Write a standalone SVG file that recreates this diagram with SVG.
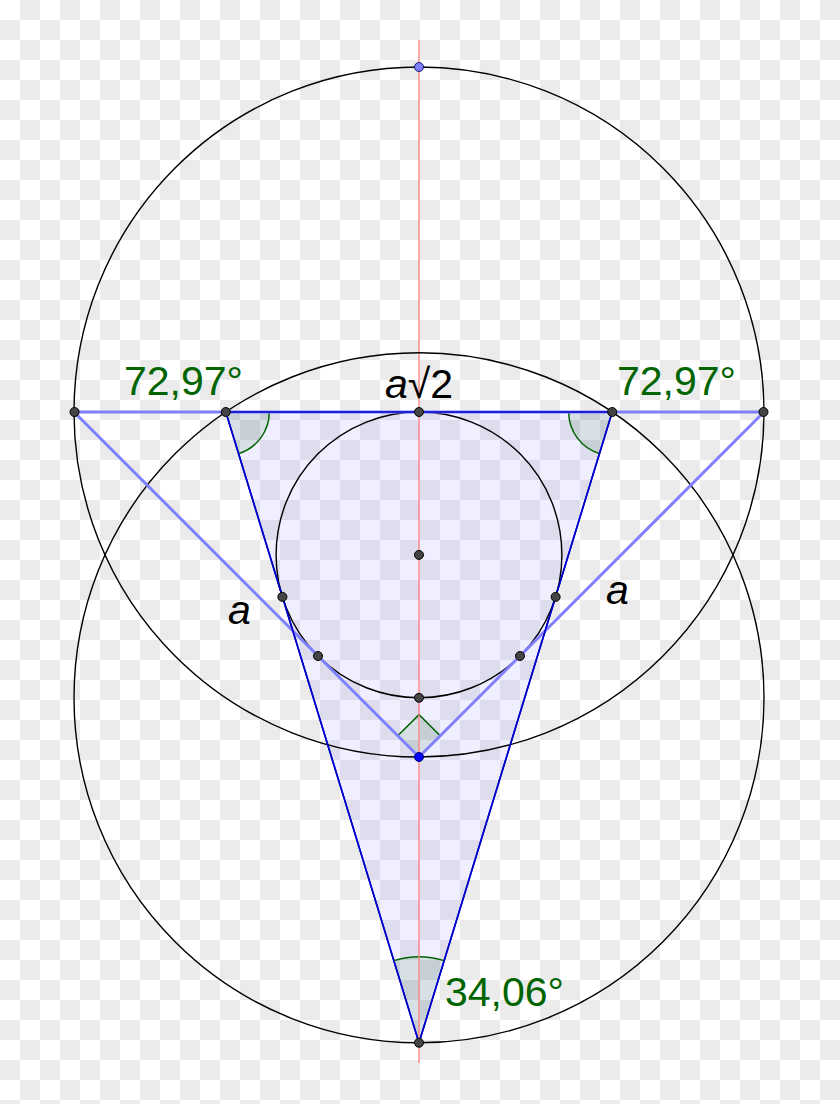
<svg xmlns="http://www.w3.org/2000/svg" width="840" height="1104" viewBox="0 0 840 1104">
<defs>
<pattern id="chk" width="40" height="40" patternUnits="userSpaceOnUse">
<rect width="40" height="40" fill="#ffffff"/>
<rect x="20" y="0" width="20" height="20" fill="#ebebeb"/>
<rect x="0" y="20" width="20" height="20" fill="#ebebeb"/>
</pattern>
<style>
.circ{fill:none;stroke:#000;stroke-width:1.4}
.lite{stroke:#7f7fff;stroke-width:3;fill:none;stroke-linecap:round}
.tri{fill:#6666ff;fill-opacity:0.1;stroke:#0000cc;stroke-width:1.6;stroke-linejoin:round}
.angf{fill:#006400;fill-opacity:0.1;stroke:none}
.angs{fill:none;stroke:#006400;stroke-width:1.5}
.pt{fill:#444;stroke:#000;stroke-width:1}
.lbl{font-family:"Liberation Sans",Arial,sans-serif;font-size:41px}
.grn{fill:#006400}
.blk{fill:#000}
</style>
</defs>
<rect width="840" height="1104" fill="url(#chk)"/>
<g id="triangle">
<path class="tri" d="M225.8 412 L612.2 412 L419 1042.8 Z"/>
</g>
<g id="angles">
<path class="angf" d="M225.8 412 L269.3 412 A43.5 43.5 0 0 1 238.5 453.6 Z"/>
<path class="angs" d="M269.3 412 A43.5 43.5 0 0 1 238.5 453.6"/>
<path class="angf" d="M612.2 412 L568.7 412 A43.5 43.5 0 0 0 599.5 453.6 Z"/>
<path class="angs" d="M568.7 412 A43.5 43.5 0 0 0 599.5 453.6"/>
<path class="angf" d="M419 1042.8 L393.8 960.6 A86 86 0 0 1 444.2 960.6 Z"/>
<path class="angs" d="M393.8 960.6 A86 86 0 0 1 444.2 960.6"/>
<path class="angf" d="M419 757 L397.8 735.8 L419 714.6 L440.2 735.8 Z"/>
<path class="angs" d="M397.8 735.8 L419 714.6 L440.2 735.8"/>
</g>
<g id="connectors">
<line x1="419" y1="40" x2="419" y2="1063" stroke="#ff7f7f" stroke-width="1.3"/>
<circle class="circ" cx="419" cy="412" r="345"/>
<circle class="circ" cx="419" cy="697.8" r="345"/>
<circle class="circ" cx="419" cy="554.9" r="142.9"/>
<polyline class="lite" points="74,412 419,757 764,412 74,412"/>
<path fill="none" stroke="#0000cc" stroke-width="1.6" stroke-linejoin="round" d="M225.8 412 L612.2 412 L419 1042.8 Z"/>
</g>
<g id="points">
<circle cx="419" cy="67" r="4.5" fill="#7f7fff" stroke="#1a1a66" stroke-width="1"/>
<circle class="pt" cx="74.5" cy="412" r="4.5"/>
<circle class="pt" cx="225.8" cy="412" r="4.5"/>
<circle class="pt" cx="419" cy="412" r="4.5"/>
<circle class="pt" cx="612.2" cy="412" r="4.5"/>
<circle class="pt" cx="763.5" cy="412" r="4.5"/>
<circle class="pt" cx="419" cy="554.9" r="4.5"/>
<circle class="pt" cx="282.4" cy="596.9" r="4.5"/>
<circle class="pt" cx="555.6" cy="596.9" r="4.5"/>
<circle class="pt" cx="318" cy="656" r="4.5"/>
<circle class="pt" cx="520" cy="656" r="4.5"/>
<circle class="pt" cx="419" cy="697.8" r="4.5"/>
<circle cx="419" cy="757" r="4.5" fill="#0000ff" stroke="#000066" stroke-width="1"/>
<circle class="pt" cx="419" cy="1042.8" r="4.5"/>
</g>
<g id="labels">
<text class="lbl grn" x="124" y="395">72,97°</text>
<text class="lbl grn" x="617" y="395">72,97°</text>
<text class="lbl grn" x="445" y="1006">34,06°</text>
<text class="lbl blk" x="385" y="398"><tspan font-style="italic">a</tspan>√2</text>
<text class="lbl blk" x="228" y="624" font-style="italic">a</text>
<text class="lbl blk" x="606" y="604" font-style="italic">a</text>
</g>
</svg>
